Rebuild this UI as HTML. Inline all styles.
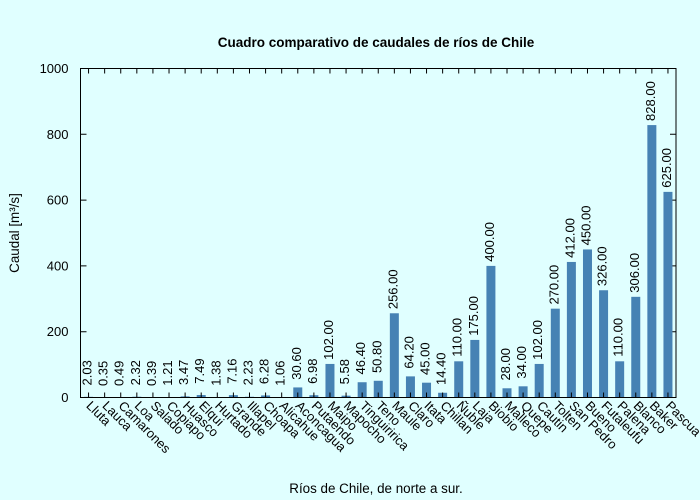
<!DOCTYPE html>
<html><head><meta charset="utf-8"><style>
body{margin:0;background:#e0ffff;}
svg{display:block;font-family:"Liberation Sans",sans-serif;}
</style></head><body>
<svg id="chart" width="700" height="500">
<rect width="700" height="500" fill="#e0ffff"/>
<text x="376" y="47" text-anchor="middle" font-size="13.5" font-weight="bold">Cuadro comparativo de caudales de ríos de Chile</text>
<text x="376" y="493" text-anchor="middle" font-size="13.4">Ríos de Chile, de norte a sur.</text>
<text transform="translate(19,233) rotate(-90)" text-anchor="middle" font-size="13.4">Caudal [m³/s]</text>
<g id="plot"></g>
</svg>
<script>
const categories=["Lluta","Lauca","Camarones","Loa","Salado","Copiapo","Huasco","Elqui","Hurtado","Grande","Illapel","Choapa","Alicahue","Aconcagua","Putaendo","Maipo","Mapocho","Tinguiririca","Teno","Maule","Claro","Itata","Chillan","Ñuble","Laja","Biobio","Malleco","Quepe","Cautin","Tolten","San Pedro","Bueno","Futaleufu","Palena","Blanco","Baker","Pascua"];
const values=[2.03,0.35,0.49,2.32,0.39,1.21,3.47,7.49,1.38,7.16,2.23,6.28,1.06,30.6,6.98,102,5.58,46.4,50.8,256,64.2,45,14.4,110,175,400,28,34,102,270,412,450,326,110,306,828,625];
const yTicks=[0,200,400,600,800,1000];
const L=80.5,R=676,T=68.5,B=397.5,yMax=1000;
const g=document.getElementById('plot');
const NS='http://www.w3.org/2000/svg';
const slot=(R-L)/categories.length;
const xC=i=>L+slot*(i+0.5);
const y=v=>B-(v/yMax)*(B-T);
function mk(t,a){const e=document.createElementNS(NS,t);for(const k in a)e.setAttribute(k,a[k]);g.appendChild(e);return e;}
yTicks.forEach(v=>{
  const yy=y(v);
  const l=mk('path',{d:`M${L} ${yy}h6M${R} ${yy}h-6`,stroke:'#000'});
  
  
  const t=mk('text',{x:L-12,y:yy+4.5,'text-anchor':'end','font-size':'13'});
  t.textContent=v;
  
  
});
categories.forEach((c,i)=>{
  const x=xC(i),v=values[i];
  const b=mk('rect',{x:x-4.5,y:y(v),width:9,height:B-y(v),fill:'#4682b4'});
  
  
  const tk=mk('path',{d:`M${x} ${B}v-5M${x} ${T}v5`,stroke:'#000'});
  
  
  const vl=mk('text',{transform:`translate(${x+3},${y(v)-24}) rotate(-90)`,'font-size':'13','text-anchor':'middle'});
  vl.textContent=v.toFixed(2);
  
  
  const cl=mk('text',{transform:`translate(${x-3},${B+9}) rotate(45)`,'font-size':'13'});
  cl.textContent=c;
  
  
});
const f=mk('rect',{x:L,y:T,width:R-L,height:B-T,fill:'none',stroke:'#000'});


</script>
</body></html>
